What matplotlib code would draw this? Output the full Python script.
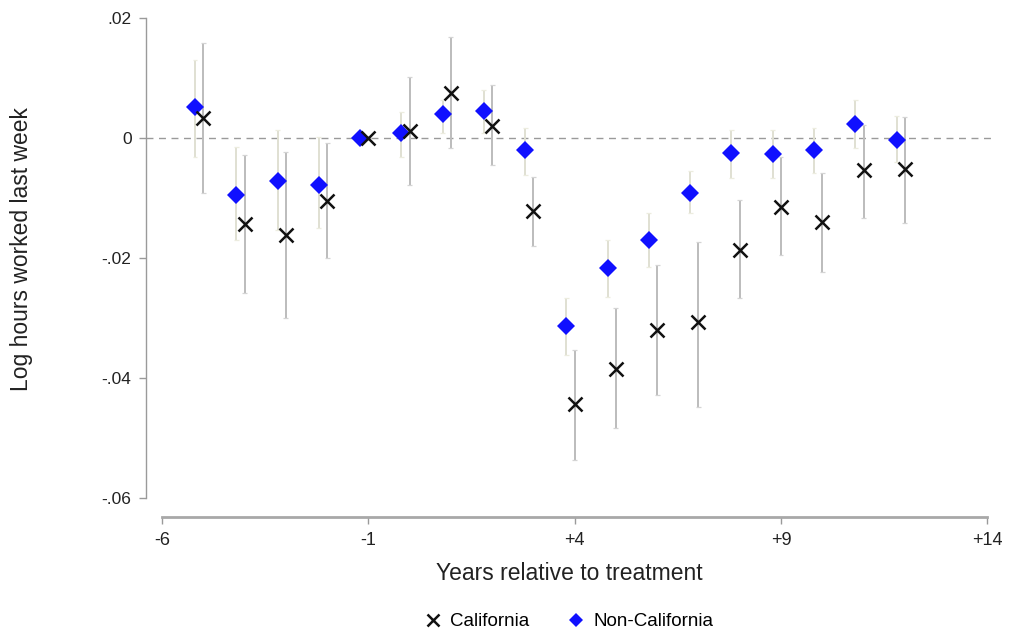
import matplotlib
matplotlib.use("Agg")
import matplotlib.pyplot as plt
from matplotlib import font_manager

# Event-study estimates: log hours worked last week, by years relative to treatment
years = list(range(-5, 13))

cal_coef = [0.0033, -0.0143, -0.0162, -0.0105, 0.0, 0.0012, 0.0075, 0.0020, -0.0122,
            -0.0443, -0.0385, -0.0320, -0.0307, -0.0187, -0.0115, -0.0140, -0.0053, -0.0052]
cal_lo = [-0.0092, -0.0258, -0.0300, -0.0200, 0.0, -0.0078, -0.0017, -0.0045, -0.0180,
          -0.0537, -0.0483, -0.0428, -0.0448, -0.0267, -0.0195, -0.0223, -0.0133, -0.0142]
cal_hi = [0.0158, -0.0028, -0.0023, -0.0008, 0.0, 0.0102, 0.0168, 0.0088, -0.0065,
          -0.0353, -0.0283, -0.0212, -0.0173, -0.0103, -0.0032, -0.0058, 0.0022, 0.0035]

non_coef = [0.0052, -0.0095, -0.0072, -0.0078, 0.0, 0.0008, 0.0040, 0.0045, -0.0020,
            -0.0313, -0.0217, -0.0170, -0.0092, -0.0025, -0.0027, -0.0020, 0.0023, -0.0003]
non_lo = [-0.0032, -0.0170, -0.0153, -0.0150, 0.0, -0.0032, 0.0008, 0.0008, -0.0062,
          -0.0362, -0.0265, -0.0215, -0.0125, -0.0067, -0.0067, -0.0058, -0.0017, -0.0040]
non_hi = [0.0130, -0.0015, 0.0013, 0.0002, 0.0, 0.0043, 0.0063, 0.0080, 0.0017,
          -0.0267, -0.0170, -0.0125, -0.0055, 0.0013, 0.0013, 0.0017, 0.0063, 0.0037]

xticks = [-6, -1, 4, 9, 14]
xtick_labels = ["-6", "-1", "+4", "+9", "+14"]
yticks = [0.02, 0.0, -0.02, -0.04, -0.06]
ytick_labels = [".02", "0", "-.02", "-.04", "-.06"]

non_offset = -0.2


def has_font(name):
    try:
        font_manager.findfont(name, fallback_to_default=False)
        return True
    except Exception:
        return False


regular = ["Liberation Sans", "DejaVu Sans"]
narrow = (["Liberation Sans Narrow"] if has_font("Liberation Sans Narrow") else []) + regular

fig = plt.figure(figsize=(10.21, 6.44), dpi=100)
ax = fig.add_axes([145.5 / 1021, 127 / 644, 848 / 1021, 502 / 644])

axis_gray = "#9a9a9a"
cal_ci = "#bcbcbc"
cal_cap = "#d4d4d4"
non_ci = "#e0e0d2"
non_cap = "#ececdf"

ax.set_xlim(-6.40, 14.15)
ax.set_ylim(-0.06317, 0.0205)

ax.axhline(0, color=axis_gray, lw=1.0, dashes=(5, 4), zorder=1)

non_x = [y + non_offset for y in years]
ax.vlines(non_x, non_lo, non_hi, color=non_ci, lw=1.4, zorder=2)
ax.vlines(years, cal_lo, cal_hi, color=cal_ci, lw=1.4, zorder=2)
for xs, lo, hi, col in ((non_x, non_lo, non_hi, non_cap), (years, cal_lo, cal_hi, cal_cap)):
    for x, a, b in zip(xs, lo, hi):
        if a != b:
            ax.hlines([a, b], x - 0.06, x + 0.06, color=col, lw=0.9, zorder=2)

ax.plot(non_x, non_coef, linestyle="none", marker="D", markersize=9,
        color="#1010ff", markeredgewidth=0, zorder=4, label="Non-California")
ax.plot(years, cal_coef, linestyle="none", marker="x", markersize=10.5,
        color="#111111", markeredgewidth=1.8, zorder=5, label="California")

for side in ("top", "right"):
    ax.spines[side].set_visible(False)
ax.spines["left"].set_bounds(-0.06, 0.02)
ax.spines["left"].set_color(axis_gray)
ax.spines["left"].set_linewidth(1.0)
ax.spines["bottom"].set_bounds(-6, 14)
ax.spines["bottom"].set_color("#a8a8a8")
ax.spines["bottom"].set_linewidth(2.0)

ax.set_xticks(xticks)
ax.set_xticklabels(xtick_labels, family=narrow, fontsize=13)
ax.set_yticks(yticks)
ax.set_yticklabels(ytick_labels, family=regular, fontsize=12.5)
ax.tick_params(axis="both", direction="out", length=5, width=1, color=axis_gray,
               colors="#222222", labelcolor="#222222")
ax.tick_params(axis="x", pad=6)
ax.tick_params(axis="y", pad=5)

ax.set_ylabel("Log hours worked last week", family=regular, fontsize=16.5,
              color="#222222")
ax.yaxis.set_label_coords(-0.133, 0.534)
ax.set_xlabel("Years relative to treatment", family=narrow, fontsize=16.5,
              color="#222222", labelpad=9)

handles, labels = ax.get_legend_handles_labels()
order = [labels.index("California"), labels.index("Non-California")]
fig.legend([handles[i] for i in order], [labels[i] for i in order],
           loc="lower center", bbox_to_anchor=(0.557, -0.005), ncol=2, frameon=False,
           prop={"family": narrow, "size": 13.5}, handletextpad=0.4, columnspacing=2.0,
           markerscale=0.8, handlelength=1.0)

fig.savefig("out.png", dpi=100, facecolor="white")
